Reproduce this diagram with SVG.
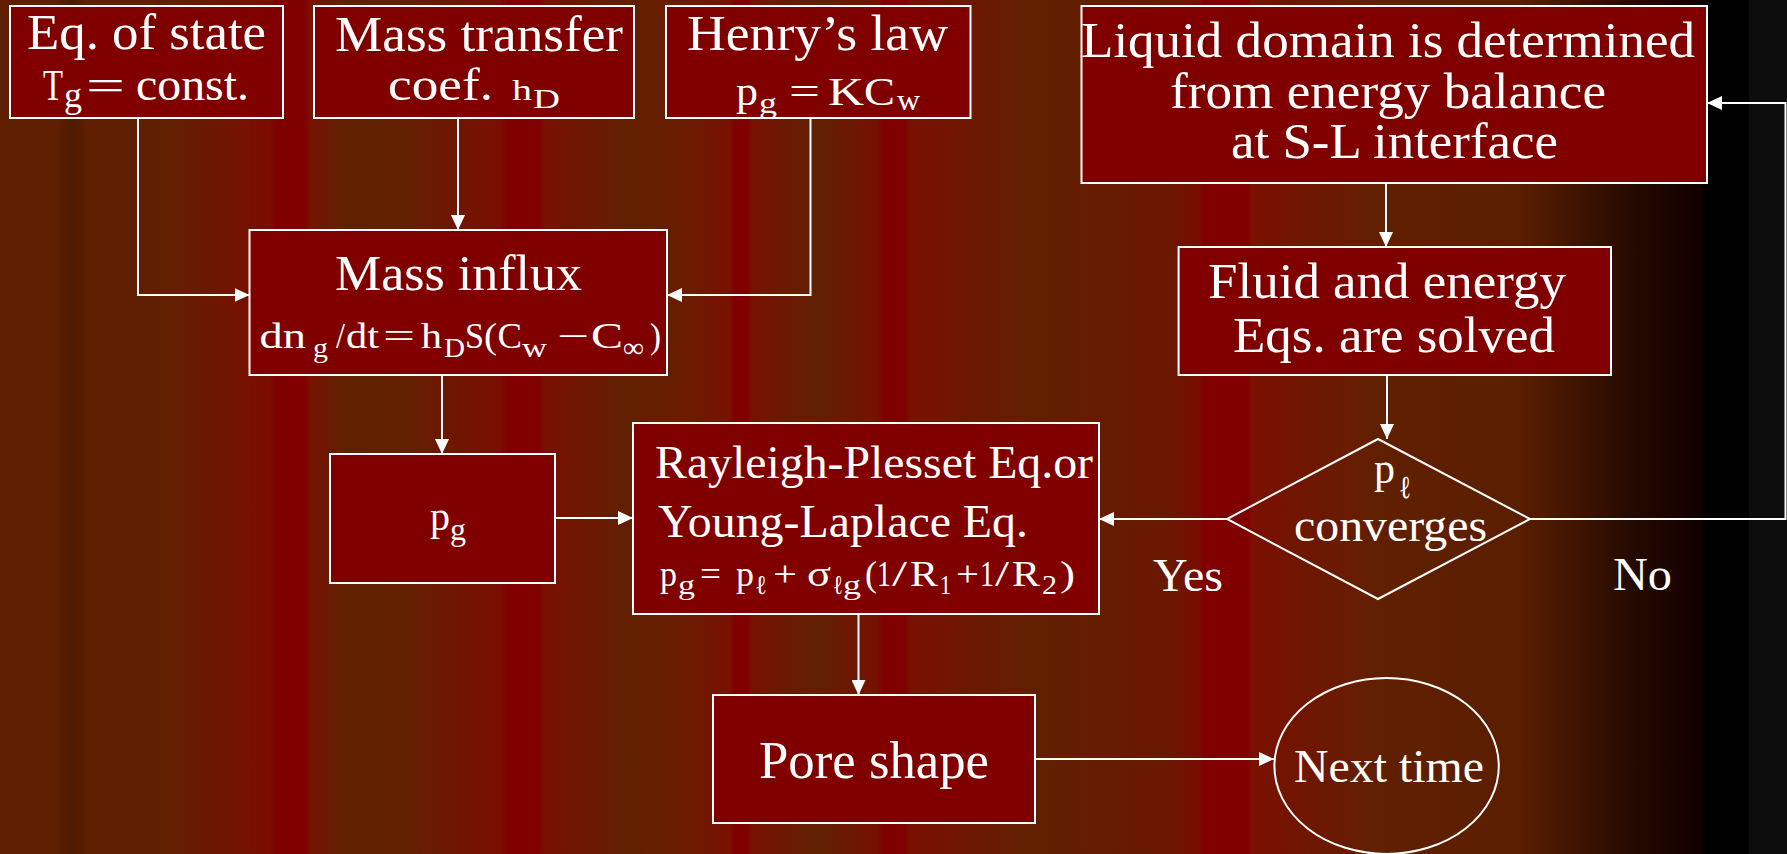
<svg xmlns="http://www.w3.org/2000/svg" width="1787" height="854" viewBox="0 0 1787 854">
<defs>
<linearGradient id="bg" gradientUnits="userSpaceOnUse" x1="0" y1="0" x2="1787" y2="0">
<stop offset="0" stop-color="#602000"/>
<stop offset=".0308" stop-color="#602000"/>
<stop offset=".0403" stop-color="#4e1a00"/>
<stop offset=".0492" stop-color="#602000"/>
<stop offset=".0923" stop-color="#602000"/>
<stop offset=".1511" stop-color="#7c0c00"/>
<stop offset=".1545" stop-color="#800000"/>
<stop offset=".1701" stop-color="#800000"/>
<stop offset=".1735" stop-color="#781200"/>
<stop offset=".1931" stop-color="#602000"/>
<stop offset=".2238" stop-color="#622000"/>
<stop offset=".2798" stop-color="#7a0e00"/>
<stop offset=".2843" stop-color="#800000"/>
<stop offset=".3011" stop-color="#800000"/>
<stop offset=".3050" stop-color="#7a1000"/>
<stop offset=".3525" stop-color="#602000"/>
<stop offset=".3828" stop-color="#6a1c00"/>
<stop offset=".4085" stop-color="#7a1000"/>
<stop offset=".4107" stop-color="#800000"/>
<stop offset=".4180" stop-color="#800000"/>
<stop offset=".4208" stop-color="#781200"/>
<stop offset=".4594" stop-color="#602000"/>
<stop offset=".4913" stop-color="#781000"/>
<stop offset=".4947" stop-color="#800000"/>
<stop offset=".5064" stop-color="#800000"/>
<stop offset=".5092" stop-color="#7a1000"/>
<stop offset=".5797" stop-color="#602000"/>
<stop offset=".6531" stop-color="#6a1800"/>
<stop offset=".6715" stop-color="#7a0c00"/>
<stop offset=".6737" stop-color="#800000"/>
<stop offset=".6978" stop-color="#800000"/>
<stop offset=".7006" stop-color="#7a1000"/>
<stop offset=".7745" stop-color="#602000"/>
<stop offset=".8506" stop-color="#5a1e00"/>
<stop offset=".9144" stop-color="#240a00"/>
<stop offset=".9401" stop-color="#180300"/>
<stop offset=".9530" stop-color="#100000"/>
<stop offset=".9536" stop-color="#000000"/>
<stop offset=".9782" stop-color="#000000"/>
<stop offset=".9793" stop-color="#0d0d0d"/>
<stop offset="1" stop-color="#0d0d0d"/>
</linearGradient>
<marker id="arr" markerUnits="userSpaceOnUse" markerWidth="16" markerHeight="14" refX="15" refY="7" orient="auto">
<path d="M0,0 L15,7 L0,14 Z" fill="#ffffff"/>
</marker>
<style>
.box{fill:#800000;stroke:#ffffff;stroke-width:2}
.shape{fill:none;stroke:#ffffff;stroke-width:2}
.conn{fill:none;stroke:#ffffff;stroke-width:2;marker-end:url(#arr)}
text{font-family:"Liberation Serif","Times New Roman",serif;fill:#ffffff}
.t50{font-size:50px}
.t47{font-size:47px}
.t53{font-size:53px}
</style>
</defs>
<rect x="0" y="0" width="1787" height="854" fill="url(#bg)"/>

<g id="connectors">
<path class="conn" d="M138,118 V295 H249.5"/>
<path class="conn" d="M458,118 V230"/>
<path class="conn" d="M810.5,118 V295 H667"/>
<path class="conn" d="M442,375 V454"/>
<path class="conn" d="M555,518 H633"/>
<path class="conn" d="M858.5,614 V695"/>
<path class="conn" d="M1386,183 V247"/>
<path class="conn" d="M1387,375 V439"/>
<path class="conn" d="M1227,519 H1099"/>
<path class="conn" d="M1530,519 H1785.5 V103 H1707"/>
<path class="conn" d="M1035,759 H1274"/>
</g>

<g id="eq-of-state">
<rect class="box" x="10" y="6" width="273" height="112"/>
<text class="t50" x="27" y="49" textLength="239" lengthAdjust="spacingAndGlyphs">Eq. of state</text>
<text><tspan x="43" y="100" font-size="44" textLength="20" lengthAdjust="spacingAndGlyphs">T</tspan><tspan x="64" y="107" font-size="36" textLength="18" lengthAdjust="spacingAndGlyphs">g</tspan><tspan x="86" y="100" font-size="44" textLength="39" lengthAdjust="spacingAndGlyphs">=</tspan><tspan x="136" y="100" font-size="46" textLength="113" lengthAdjust="spacingAndGlyphs">const.</tspan></text>
</g>

<g id="mass-transfer">
<rect class="box" x="314" y="6" width="320" height="112"/>
<text class="t50" x="335" y="51" textLength="288" lengthAdjust="spacingAndGlyphs">Mass transfer</text>
<text><tspan x="388" y="100" font-size="46" textLength="105" lengthAdjust="spacingAndGlyphs">coef.</tspan><tspan x="512" y="100" font-size="30" textLength="20" lengthAdjust="spacingAndGlyphs">h</tspan><tspan x="533" y="108" font-size="28" textLength="27" lengthAdjust="spacingAndGlyphs">D</tspan></text>
</g>

<g id="henrys-law">
<rect class="box" x="666" y="6" width="304.5" height="112"/>
<text class="t50" x="687" y="50" textLength="261" lengthAdjust="spacingAndGlyphs">Henry’s law</text>
<text><tspan x="736" y="105" font-size="40" textLength="22" lengthAdjust="spacingAndGlyphs">p</tspan><tspan x="759" y="113" font-size="30" textLength="18" lengthAdjust="spacingAndGlyphs">g</tspan><tspan x="789" y="105" font-size="40" textLength="31" lengthAdjust="spacingAndGlyphs">=</tspan><tspan x="828" y="105" font-size="40" textLength="36" lengthAdjust="spacingAndGlyphs">K</tspan><tspan x="864" y="105" font-size="40" textLength="31" lengthAdjust="spacingAndGlyphs">C</tspan><tspan x="897" y="110" font-size="30" textLength="23" lengthAdjust="spacingAndGlyphs">w</tspan></text>
</g>

<g id="liquid-domain">
<rect class="box" x="1081.5" y="6" width="625.5" height="177"/>
<text class="t50" x="1081" y="57" textLength="614" lengthAdjust="spacingAndGlyphs">Liquid domain is determined</text>
<text class="t50" x="1170" y="108" textLength="436" lengthAdjust="spacingAndGlyphs">from energy balance</text>
<text class="t50" x="1231" y="158" textLength="327" lengthAdjust="spacingAndGlyphs">at S-L interface</text>
</g>

<g id="mass-influx">
<rect class="box" x="249.5" y="230" width="417.5" height="145"/>
<text class="t50" x="335" y="290" textLength="247" lengthAdjust="spacingAndGlyphs">Mass influx</text>
<text font-size="36"><tspan x="259.5" y="348" textLength="46.5" lengthAdjust="spacingAndGlyphs">dn</tspan><tspan x="313" y="357" font-size="28" textLength="15" lengthAdjust="spacingAndGlyphs">g</tspan><tspan x="336" y="348" textLength="9" lengthAdjust="spacingAndGlyphs">/</tspan><tspan x="346" y="348" textLength="33" lengthAdjust="spacingAndGlyphs">dt</tspan><tspan x="383" y="348" textLength="32" lengthAdjust="spacingAndGlyphs">=</tspan><tspan x="421" y="348" textLength="21" lengthAdjust="spacingAndGlyphs">h</tspan><tspan x="444" y="357" font-size="28" textLength="21" lengthAdjust="spacingAndGlyphs">D</tspan><tspan x="465" y="348" textLength="19" lengthAdjust="spacingAndGlyphs">S</tspan><tspan x="484" y="348" textLength="13" lengthAdjust="spacingAndGlyphs">(</tspan><tspan x="497.5" y="348" textLength="24.5" lengthAdjust="spacingAndGlyphs">C</tspan><tspan x="522" y="357" font-size="28" textLength="25" lengthAdjust="spacingAndGlyphs">w</tspan><tspan x="557" y="348" textLength="32" lengthAdjust="spacingAndGlyphs">−</tspan><tspan x="591" y="348" textLength="32" lengthAdjust="spacingAndGlyphs">C</tspan><tspan x="623" y="357" font-size="28" textLength="21" lengthAdjust="spacingAndGlyphs">∞</tspan><tspan x="650" y="348" textLength="11" lengthAdjust="spacingAndGlyphs">)</tspan></text>
</g>

<g id="fluid-energy">
<rect class="box" x="1178.6" y="247" width="432.4" height="128"/>
<text class="t50" x="1208" y="298" textLength="358" lengthAdjust="spacingAndGlyphs">Fluid and energy</text>
<text class="t50" x="1233" y="352" textLength="322" lengthAdjust="spacingAndGlyphs">Eqs. are solved</text>
</g>

<g id="pg-box">
<rect class="box" x="330" y="454" width="225" height="129"/>
<text><tspan x="430" y="530" font-size="40" textLength="20" lengthAdjust="spacingAndGlyphs">p</tspan><tspan x="450" y="540" font-size="32" textLength="16" lengthAdjust="spacingAndGlyphs">g</tspan></text>
</g>

<g id="rayleigh-plesset">
<rect class="box" x="633" y="423" width="466" height="191"/>
<text class="t47" x="655" y="478" textLength="438" lengthAdjust="spacingAndGlyphs">Rayleigh-Plesset Eq.or</text>
<text class="t47" x="658" y="537" textLength="370" lengthAdjust="spacingAndGlyphs">Young-Laplace Eq.</text>
<text font-size="36"><tspan x="660" y="586" textLength="17" lengthAdjust="spacingAndGlyphs">p</tspan><tspan x="678" y="594" font-size="27" textLength="17" lengthAdjust="spacingAndGlyphs">g</tspan><tspan x="700" y="586" textLength="21" lengthAdjust="spacingAndGlyphs">=</tspan><tspan x="736" y="586" textLength="18" lengthAdjust="spacingAndGlyphs">p</tspan><tspan x="755" y="594" font-size="27" textLength="12" lengthAdjust="spacingAndGlyphs">ℓ</tspan><tspan x="773" y="586" textLength="24" lengthAdjust="spacingAndGlyphs">+</tspan><tspan x="807" y="586" textLength="24" lengthAdjust="spacingAndGlyphs">σ</tspan><tspan x="833" y="594" font-size="27" textLength="10" lengthAdjust="spacingAndGlyphs">ℓ</tspan><tspan x="843" y="594" font-size="27" textLength="18" lengthAdjust="spacingAndGlyphs">g</tspan><tspan x="865" y="586" textLength="12" lengthAdjust="spacingAndGlyphs">(</tspan><tspan x="877" y="586" textLength="14" lengthAdjust="spacingAndGlyphs">1</tspan><tspan x="892" y="586" textLength="15" lengthAdjust="spacingAndGlyphs">/</tspan><tspan x="910" y="586" textLength="28" lengthAdjust="spacingAndGlyphs">R</tspan><tspan x="940" y="594" font-size="27" textLength="11" lengthAdjust="spacingAndGlyphs">1</tspan><tspan x="956" y="586" textLength="23" lengthAdjust="spacingAndGlyphs">+</tspan><tspan x="980" y="586" textLength="14" lengthAdjust="spacingAndGlyphs">1</tspan><tspan x="995" y="586" textLength="14" lengthAdjust="spacingAndGlyphs">/</tspan><tspan x="1012" y="586" textLength="28" lengthAdjust="spacingAndGlyphs">R</tspan><tspan x="1042" y="594" font-size="27" textLength="15" lengthAdjust="spacingAndGlyphs">2</tspan><tspan x="1060" y="586" textLength="15" lengthAdjust="spacingAndGlyphs">)</tspan></text>
</g>

<g id="converges">
<polygon class="shape" points="1378,439 1530,519 1378,599 1227,519"/>
<text><tspan x="1374" y="483" font-size="44" textLength="21" lengthAdjust="spacingAndGlyphs">p</tspan><tspan x="1399" y="498" font-size="32" textLength="12" lengthAdjust="spacingAndGlyphs">ℓ</tspan></text>
<text class="t47" x="1294" y="541" textLength="193" lengthAdjust="spacingAndGlyphs">converges</text>
</g>

<g id="label-yes">
<text class="t47" x="1153" y="591" textLength="70" lengthAdjust="spacingAndGlyphs">Yes</text>
</g>
<g id="label-no">
<text class="t47" x="1613" y="590" textLength="59" lengthAdjust="spacingAndGlyphs">No</text>
</g>

<g id="pore-shape">
<rect class="box" x="713" y="695" width="322" height="128"/>
<text class="t53" x="759" y="778" textLength="230" lengthAdjust="spacingAndGlyphs">Pore shape</text>
</g>

<g id="next-time">
<ellipse class="shape" cx="1386.6" cy="766" rx="112.2" ry="88"/>
<text class="t47" x="1294" y="782" textLength="190" lengthAdjust="spacingAndGlyphs">Next time</text>
</g>
</svg>
